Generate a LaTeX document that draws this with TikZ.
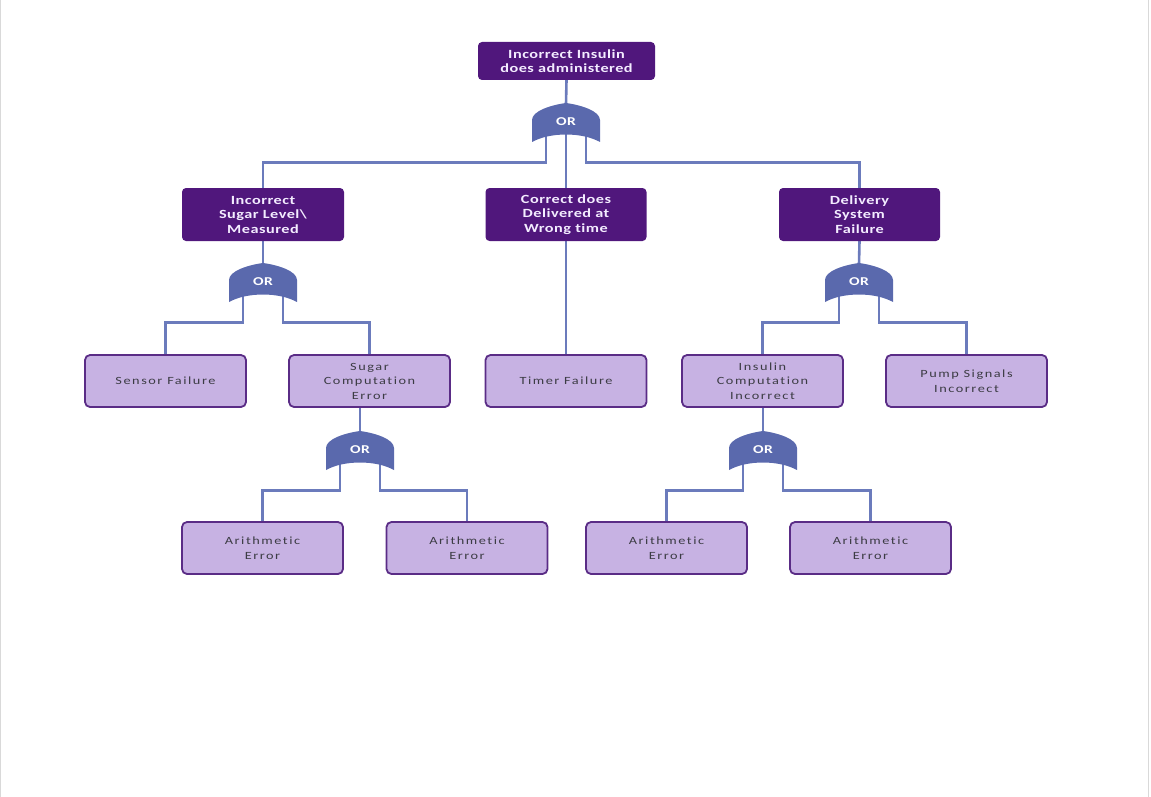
\documentclass[tikz,border=0pt]{standalone}
\usepackage{fontspec}
\setmainfont[Ligatures=NoCommon]{Carlito}
\newfontfamily\darkfont[Ligatures=NoCommon, FakeStretch=1.3, LetterSpace=4]{Carlito}
\newfontfamily\lightfont[Ligatures=NoCommon, FakeStretch=1.3, LetterSpace=14]{Carlito}
\usetikzlibrary{calc,backgrounds}
\definecolor{darkbox}{HTML}{50177C}
\definecolor{darktext}{HTML}{F3ECFF}
\definecolor{lightbox}{HTML}{C7B2E3}
\definecolor{lightborder}{HTML}{5A2C86}
\definecolor{gatecol}{HTML}{5A69AD}
\definecolor{linecol}{HTML}{6B7BBC}
\definecolor{lighttext}{HTML}{3C3C44}
\tikzset{
  darkstyle/.style={rectangle, rounded corners=4pt, fill=darkbox, draw=none,
    text=darktext, align=center, font=\darkfont\bfseries\fontsize{12.5}{14.5}\selectfont,
    minimum height=53, inner sep=0pt},
  lightstyle/.style={rectangle, rounded corners=5pt, fill=lightbox, draw=lightborder,
    line width=1.8pt, text=lighttext, align=center,
    font=\lightfont\fontsize{11}{14.5}\selectfont,
    minimum width=161, minimum height=52, inner sep=0pt},
  gatetext/.style={text=white, font=\darkfont\bfseries\fontsize{12}{14}\selectfont, inner sep=0pt},
  conn/.style={draw=linecol, line width=2.6pt},
}
% #1 name, #2 x centre, #3 y of bottom corners
\newcommand\orgate[3]{%
  \fill[gatecol] (#2-34,#3) -- (#2-34,#3-22)
    .. controls (#2-34,#3-31) and (#2-15,#3-37) .. (#2,#3-39)
    .. controls (#2+15,#3-37) and (#2+34,#3-31) .. (#2+34,#3-22)
    -- (#2+34,#3) .. controls (#2+16,#3-10) and (#2-16,#3-10) .. cycle;
  \node[gatetext] (#1) at (#2,#3-20) {OR};
  \coordinate (#1-t) at (#2,#3-38);
  \coordinate (#1-l) at (#2-20,#3-6);
  \coordinate (#1-c) at (#2,#3-8);
  \coordinate (#1-r) at (#2+20,#3-6);
  \coordinate (#1-lb) at (#2-20,#3+20.5);
  \coordinate (#1-rb) at (#2+20,#3+20.5);
}
\begin{document}
\begin{tikzpicture}[x=1pt,y=-1pt]
\useasboundingbox (0,0) rectangle (1151,797);
\draw[black!15, line width=1pt] (0.5,0) -- (0.5,797);
\draw[black!15, line width=1pt] (1148.5,0) -- (1148.5,797);

% top event
\node[darkstyle, minimum width=177, minimum height=38] (top) at (566.5,61) {Incorrect Insulin\\does administered};

% level 2
\node[darkstyle, minimum width=162] (sugar) at (263,214.5) {Incorrect\\Sugar Level\textbackslash\\Measured};
\node[darkstyle, minimum width=161] (wrong) at (566,214.5) {Correct does\\Delivered at\\Wrong time};
\node[darkstyle, minimum width=161] (deliv) at (859.5,214.5) {Delivery\\System\\Failure};

% level 3
\node[lightstyle] (sensor) at (165.5,381) {Sensor Failure};
\node[lightstyle] (sugcomp) at (369.5,381) {Sugar\\Computation\\Error};
\node[lightstyle] (timer) at (566,381) {Timer Failure};
\node[lightstyle] (inscomp) at (762.5,381) {Insulin\\Computation\\Incorrect};
\node[lightstyle] (pump) at (966.5,381) {Pump Signals\\Incorrect};

% level 4
\node[lightstyle] (ae1) at (262.5,548) {Arithmetic\\Error};
\node[lightstyle] (ae2) at (467,548) {Arithmetic\\Error};
\node[lightstyle] (ae3) at (666.5,548) {Arithmetic\\Error};
\node[lightstyle] (ae4) at (870.5,548) {Arithmetic\\Error};

% gates
\orgate{g0}{566}{142}
\orgate{g1}{263}{302}
\orgate{g2}{859}{302}
\orgate{g3}{360}{470}
\orgate{g4}{763}{470}

\begin{scope}[on background layer]
  \draw[conn] (top.south) -- (g0-t);
  \draw[conn] (g0-l) -- (g0-lb) -| (sugar.north);
  \draw[conn] (g0-c) -- (wrong.north);
  \draw[conn] (g0-r) -- (g0-rb) -| (deliv.north);
  \draw[conn] (wrong.south) -- (timer.north);

  \draw[conn] (sugar.south) -- (g1-t);
  \draw[conn] (g1-l) -- (g1-lb) -| (sensor.north);
  \draw[conn] (g1-r) -- (g1-rb) -| (sugcomp.north);

  \draw[conn] (deliv.south) -- (g2-t);
  \draw[conn] (g2-l) -- (g2-lb) -| (inscomp.north);
  \draw[conn] (g2-r) -- (g2-rb) -| (pump.north);

  \draw[conn] (g3-t |- sugcomp.south) -- (g3-t);
  \draw[conn] (g3-l) -- (g3-lb) -| (ae1.north);
  \draw[conn] (g3-r) -- (g3-rb) -| (ae2.north);

  \draw[conn] (g4-t |- inscomp.south) -- (g4-t);
  \draw[conn] (g4-l) -- (g4-lb) -| (ae3.north);
  \draw[conn] (g4-r) -- (g4-rb) -| (ae4.north);
\end{scope}
\end{tikzpicture}
\end{document}
